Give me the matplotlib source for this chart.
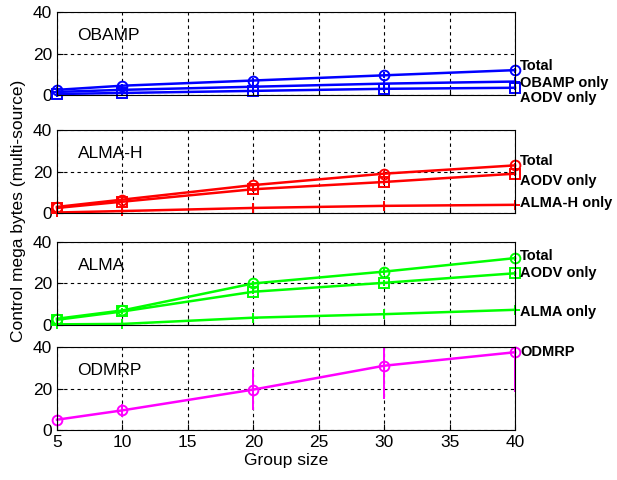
import numpy as np
import matplotlib
matplotlib.use('Agg')
import matplotlib.pyplot as plt

plt.rcParams['font.family'] = ['Liberation Sans', 'DejaVu Sans']

group_size = [5, 10, 20, 30, 40]

# OBAMP
obamp_total = [2.5, 4.5, 7.0, 9.5, 12.0]
obamp_only = [1.5, 2.5, 4.0, 5.5, 6.5]
obamp_aodv = [0.5, 1.0, 2.0, 3.0, 3.5]

# ALMA-H
almah_total = [3.0, 6.5, 13.5, 19.0, 23.0]
almah_aodv = [2.5, 5.5, 11.5, 15.0, 19.0]
almah_only = [0.3, 1.0, 2.5, 3.5, 4.0]

# ALMA
alma_total = [3.0, 7.0, 20.0, 25.7, 32.2]
alma_aodv = [2.5, 6.5, 16.0, 20.3, 24.9]
alma_only = [0.3, 0.5, 3.5, 5.2, 7.3]

# ODMRP with spread
odmrp = [5.0, 9.5, 19.5, 31.0, 37.5]
odmrp_err = [1.0, 3.0, 9.7, 16.0, 19.0]

# small spread on the other series
small_err = [0.5, 1.0, 1.2, 1.5, 1.2]

panels = [
    ('OBAMP', (0, 0, 1), [(obamp_total, 'o', 'Total'),
                          (obamp_only, '+', 'OBAMP only'),
                          (obamp_aodv, 's', 'AODV only')]),
    ('ALMA-H', (1, 0, 0), [(almah_total, 'o', 'Total'),
                           (almah_aodv, 's', 'AODV only'),
                           (almah_only, '+', 'ALMA-H only')]),
    ('ALMA', (0, 1, 0), [(alma_total, 'o', 'Total'),
                         (alma_aodv, 's', 'AODV only'),
                         (alma_only, '+', 'ALMA only')]),
]

fig = plt.figure(figsize=(6.17, 4.8), dpi=100)
left, width, height = 0.0924, 0.7423, 0.173
bottoms = [0.802, 0.556, 0.323, 0.104]
axes = [fig.add_axes([left, b, width, height]) for b in bottoms]


def style_axis(ax, name, last=False):
    ax.set_xlim(5, 40)
    ax.set_ylim(0, 40)
    ax.set_xticks(range(5, 41, 5))
    ax.set_yticks([0, 20, 40])
    ax.grid(True, color='k', linestyle=(0, (3, 3)), linewidth=0.8)
    ax.set_axisbelow(True)
    ax.tick_params(direction='in', labelsize=12.5, length=4, width=0.8)
    if not last:
        ax.set_xticklabels([])
    for s in ax.spines.values():
        s.set_linewidth(0.8)
    ax.text(0.045, 0.72, name, transform=ax.transAxes, fontsize=12.5,
            va='center', ha='left')


def draw_series(ax, vals, err, col, mk):
    # bars are clipped to the axes, markers and lines are not
    ax.errorbar(group_size, vals, yerr=err, fmt='none', ecolor=col,
                elinewidth=1.4, capsize=0)
    ax.plot(group_size, vals, color=col, marker=mk, markersize=7,
            markerfacecolor='none', markeredgewidth=1.4, linewidth=1.8,
            clip_on=False)


# label offsets keep the right-hand names from overlapping
label_shift = {'OBAMP': [2.0, -0.5, -5.0],
               'ALMA-H': [2.2, -3.3, 1.0],
               'ALMA': [0.8, 0.0, -1.2]}

for ax, (name, col, series) in zip(axes[:3], panels):
    for (vals, mk, lab), dy in zip(series, label_shift[name]):
        draw_series(ax, vals, small_err, col, mk)
        ax.text(40.4, vals[-1] + dy, lab, color='k', fontsize=10.5,
                fontweight='bold', va='center', ha='left')
    style_axis(ax, name)

ax = axes[3]
draw_series(ax, odmrp, odmrp_err, (1, 0, 1), 'o')
ax.text(40.4, odmrp[-1] + 0.3, 'ODMRP', color='k', fontsize=10.5,
        fontweight='bold', va='center', ha='left')
style_axis(ax, 'ODMRP', last=True)
ax.set_xlabel('Group size', fontsize=12.5, labelpad=2)

fig.text(0.03, 0.56, 'Control mega bytes (multi-source)', rotation=90,
         fontsize=12.5, va='center', ha='center')

plt.savefig('out.png', dpi=100)
